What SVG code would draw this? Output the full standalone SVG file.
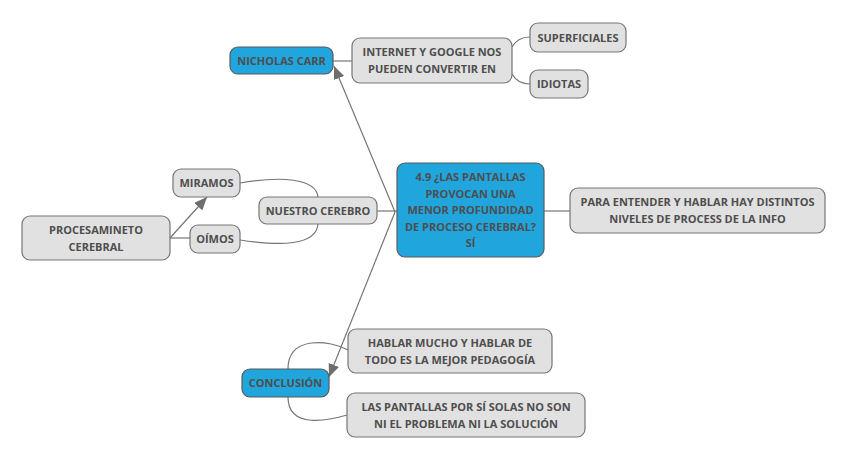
<svg xmlns="http://www.w3.org/2000/svg" width="848" height="461" viewBox="0 0 848 461">
<defs>
<marker id="ah" viewBox="0 0 13 11" refX="13" refY="5.5" markerWidth="13" markerHeight="11" orient="auto" markerUnits="userSpaceOnUse">
<path d="M0,0 L13,5.5 L0,11 Z" fill="#6e6e6e"/>
</marker>
<style>
.g{fill:#e1e1e1;stroke:#767676;stroke-width:1.2}
.b{fill:#21a5dd;stroke:#5a5a5a;stroke-width:1.2}
text{font-family:"Open Sans","Noto Sans",sans-serif;font-weight:bold;font-size:11px;fill:#4e4e4e;text-anchor:middle}
.c{fill:none;stroke:#767676;stroke-width:1.2}
</style>
</defs>
<rect width="848" height="461" fill="#ffffff"/>
<g id="connectors">
<path class="c" d="M395,212 L334,66" marker-end="url(#ah)"/>
<path class="c" d="M395,212 L329,377" marker-end="url(#ah)"/>
<path class="c" d="M377,211 L397,211"/>
<path class="c" d="M544,211 L570,211"/>
<path class="c" d="M333,61 L352,61"/>
<path class="c" d="M512,47 C516,40 522,37 530,37"/>
<path class="c" d="M512,74 C516,81 522,84 530,84"/>
<path class="c" d="M170,238 L207,197" marker-end="url(#ah)"/>
<path class="c" d="M170,238 L190,238"/>
<path class="c" d="M240,183 C280,176 316,178 318,197"/>
<path class="c" d="M240,240 C280,246 316,246 318,224"/>
<path class="c" d="M288,369 C288,335 330,340 348,350"/>
<path class="c" d="M288,397 C288,430 330,420 347,415"/>
</g>
<g id="central">
<rect class="b" x="397" y="163" width="147" height="94" rx="8"/>
<text x="470.5" y="181">4.9 ¿LAS PANTALLAS</text>
<text x="470.5" y="197.5">PROVOCAN UNA</text>
<text x="470.5" y="214">MENOR PROFUNDIDAD</text>
<text x="470.5" y="230.5">DE PROCESO CEREBRAL?</text>
<text x="470.5" y="247">SÍ</text>
</g>
<g id="nicholas">
<rect class="b" x="230" y="47" width="103" height="27" rx="8"/>
<text x="281.5" y="64.5">NICHOLAS CARR</text>
</g>
<g id="internet">
<rect class="g" x="352" y="38" width="160" height="45" rx="8"/>
<text x="432" y="56">INTERNET Y GOOGLE NOS</text>
<text x="432" y="73">PUEDEN CONVERTIR EN</text>
</g>
<g id="superficiales">
<rect class="g" x="530" y="23" width="96" height="29" rx="8"/>
<text x="578" y="41.5">SUPERFICIALES</text>
</g>
<g id="idiotas">
<rect class="g" x="530" y="70" width="58" height="28" rx="8"/>
<text x="559" y="88">IDIOTAS</text>
</g>
<g id="para">
<rect class="g" x="570" y="188" width="255" height="45" rx="8"/>
<text x="697.5" y="206">PARA ENTENDER Y HABLAR HAY DISTINTOS</text>
<text x="697.5" y="223">NIVELES DE PROCESS DE LA INFO</text>
</g>
<g id="nuestro">
<rect class="g" x="259" y="197" width="118" height="27" rx="8"/>
<text x="318" y="214.5">NUESTRO CEREBRO</text>
</g>
<g id="miramos">
<rect class="g" x="173" y="169" width="67" height="28" rx="8"/>
<text x="206.5" y="187">MIRAMOS</text>
</g>
<g id="oimos">
<rect class="g" x="190" y="225" width="50" height="28" rx="8"/>
<text x="215" y="243">OÍMOS</text>
</g>
<g id="procesamineto">
<rect class="g" x="22" y="216" width="148" height="44" rx="8"/>
<text x="96" y="234">PROCESAMINETO</text>
<text x="96" y="251">CEREBRAL</text>
</g>
<g id="conclusion">
<rect class="b" x="242" y="369" width="87" height="28" rx="8"/>
<text x="285.5" y="387">CONCLUSIÓN</text>
</g>
<g id="hablar">
<rect class="g" x="348" y="329" width="204" height="44" rx="8"/>
<text x="450" y="347">HABLAR MUCHO Y HABLAR DE</text>
<text x="450" y="364">TODO ES LA MEJOR PEDAGOGÍA</text>
</g>
<g id="pantallas">
<rect class="g" x="347" y="393" width="238" height="44" rx="8"/>
<text x="466" y="411">LAS PANTALLAS POR SÍ SOLAS NO SON</text>
<text x="466" y="428">NI EL PROBLEMA NI LA SOLUCIÓN</text>
</g>
</svg>
